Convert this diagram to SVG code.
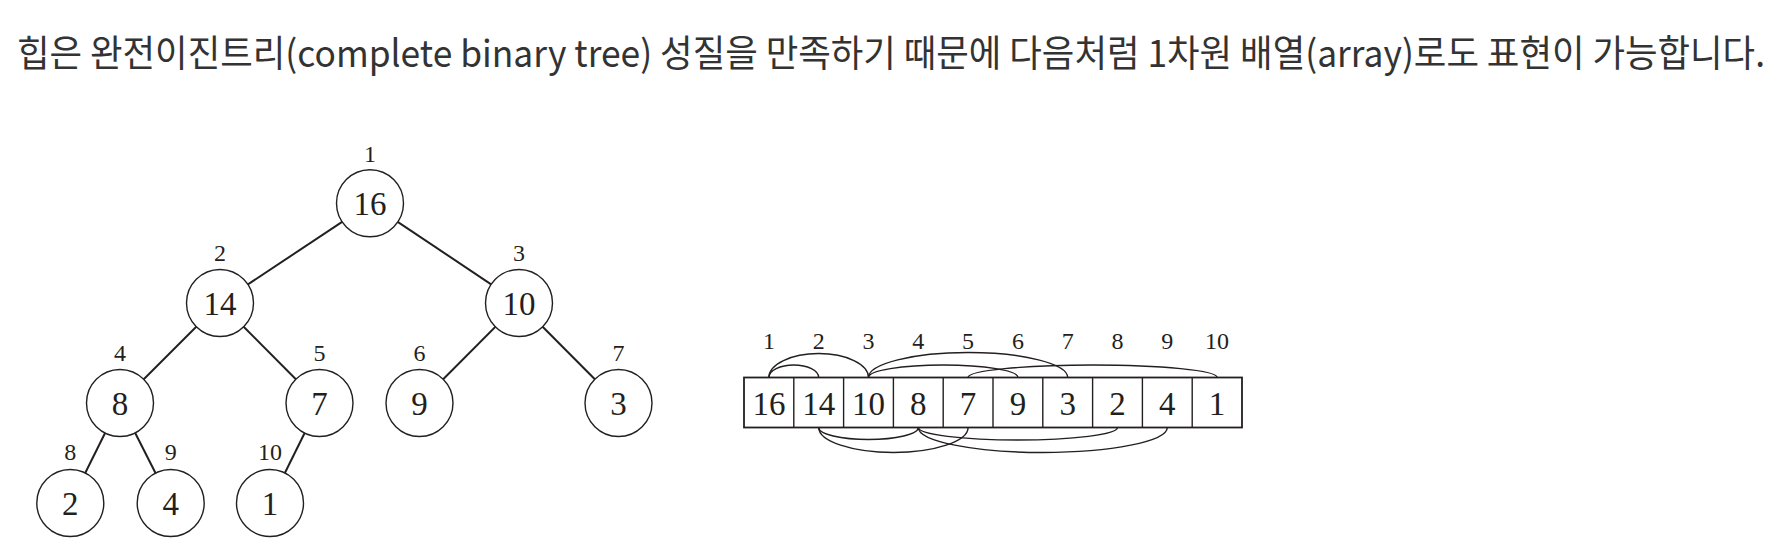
<svg xmlns="http://www.w3.org/2000/svg" width="1782" height="550" viewBox="0 0 1782 550">
<style>
.title{font-family:"Noto Sans CJK KR","Noto Sans",sans-serif;font-size:37px;fill:#333333}
.node circle{fill:#ffffff;stroke:#231f20;stroke-width:1.4}
.val{font-family:"Liberation Serif",serif;font-size:33px;fill:#231f20;text-anchor:middle}
.idx{font-family:"Liberation Serif",serif;font-size:24px;fill:#231f20;text-anchor:middle}
.edge{stroke:#231f20;stroke-width:2;fill:none}
.arc{stroke:#231f20;stroke-width:1.4;fill:none}
.cell{fill:#ffffff;stroke:#231f20;stroke-width:1.8}
</style>
<rect width="1782" height="550" fill="#ffffff"/>
<text class="title" x="17" y="66.5" textLength="1748" lengthAdjust="spacingAndGlyphs">힙은 완전이진트리(complete binary tree) 성질을 만족하기 때문에 다음처럼 1차원 배열(array)로도 표현이 가능합니다.</text>

<g id="connectors">
<line class="edge" x1="370" y1="203.3" x2="220" y2="303"/>
<line class="edge" x1="370" y1="203.3" x2="519" y2="303"/>
<line class="edge" x1="220" y1="303" x2="120" y2="403"/>
<line class="edge" x1="220" y1="303" x2="319.5" y2="403"/>
<line class="edge" x1="519" y1="303" x2="419.5" y2="403"/>
<line class="edge" x1="519" y1="303" x2="618.5" y2="403"/>
<line class="edge" x1="120" y1="403" x2="70.3" y2="503"/>
<line class="edge" x1="120" y1="403" x2="170.7" y2="503"/>
<line class="edge" x1="319.5" y1="403" x2="270" y2="503"/>
</g>

<g id="n1" class="node"><circle cx="370" cy="203.3" r="33.5"/><text class="val" x="370" y="215">16</text><text class="idx" x="370" y="162">1</text></g>
<g id="n2" class="node"><circle cx="220" cy="303" r="33.5"/><text class="val" x="220" y="314.5">14</text><text class="idx" x="220" y="261">2</text></g>
<g id="n3" class="node"><circle cx="519" cy="303" r="33.5"/><text class="val" x="519" y="314.5">10</text><text class="idx" x="519" y="261">3</text></g>
<g id="n4" class="node"><circle cx="120" cy="403" r="33.5"/><text class="val" x="120" y="414.5">8</text><text class="idx" x="120" y="361">4</text></g>
<g id="n5" class="node"><circle cx="319.5" cy="403" r="33.5"/><text class="val" x="319.5" y="414.5">7</text><text class="idx" x="319.5" y="361">5</text></g>
<g id="n6" class="node"><circle cx="419.5" cy="403" r="33.5"/><text class="val" x="419.5" y="414.5">9</text><text class="idx" x="419.5" y="361">6</text></g>
<g id="n7" class="node"><circle cx="618.5" cy="403" r="33.5"/><text class="val" x="618.5" y="414.5">3</text><text class="idx" x="618.5" y="361">7</text></g>
<g id="n8" class="node"><circle cx="70.3" cy="503" r="33.5"/><text class="val" x="70.3" y="514.5">2</text><text class="idx" x="70.3" y="460">8</text></g>
<g id="n9" class="node"><circle cx="170.7" cy="503" r="33.5"/><text class="val" x="170.7" y="514.5">4</text><text class="idx" x="170.7" y="460">9</text></g>
<g id="n10" class="node"><circle cx="270" cy="503" r="33.5"/><text class="val" x="270" y="514.5">1</text><text class="idx" x="270" y="460">10</text></g>

<g id="array">
<rect class="cell" x="744" y="377.5" width="498" height="50"/>
<g class="arc">
<line x1="793.8" y1="377.5" x2="793.8" y2="427.5"/>
<line x1="843.6" y1="377.5" x2="843.6" y2="427.5"/>
<line x1="893.4" y1="377.5" x2="893.4" y2="427.5"/>
<line x1="943.2" y1="377.5" x2="943.2" y2="427.5"/>
<line x1="993" y1="377.5" x2="993" y2="427.5"/>
<line x1="1042.8" y1="377.5" x2="1042.8" y2="427.5"/>
<line x1="1092.6" y1="377.5" x2="1092.6" y2="427.5"/>
<line x1="1142.4" y1="377.5" x2="1142.4" y2="427.5"/>
<line x1="1192.2" y1="377.5" x2="1192.2" y2="427.5"/>
</g>
<text class="val" x="768.9" y="415">16</text>
<text class="val" x="818.7" y="415">14</text>
<text class="val" x="868.5" y="415">10</text>
<text class="val" x="918.3" y="415">8</text>
<text class="val" x="968.1" y="415">7</text>
<text class="val" x="1017.9" y="415">9</text>
<text class="val" x="1067.7" y="415">3</text>
<text class="val" x="1117.5" y="415">2</text>
<text class="val" x="1167.3" y="415">4</text>
<text class="val" x="1217.1" y="415">1</text>
<text class="idx" x="768.9" y="349">1</text>
<text class="idx" x="818.7" y="349">2</text>
<text class="idx" x="868.5" y="349">3</text>
<text class="idx" x="918.3" y="349">4</text>
<text class="idx" x="968.1" y="349">5</text>
<text class="idx" x="1017.9" y="349">6</text>
<text class="idx" x="1067.7" y="349">7</text>
<text class="idx" x="1117.5" y="349">8</text>
<text class="idx" x="1167.3" y="349">9</text>
<text class="idx" x="1217.1" y="349">10</text>
</g>

<g id="array-connectors">
<path class="arc" d="M768.9 377.5 A24.9 12.5 0 0 1 818.7 377.5"/>
<path class="arc" d="M768.9 377.5 A49.8 24 0 0 1 868.5 377.5"/>
<path class="arc" d="M868.5 377.5 A74.7 12.5 0 0 1 1017.9 377.5"/>
<path class="arc" d="M868.5 377.5 A99.6 25 0 0 1 1067.7 377.5"/>
<path class="arc" d="M968.1 377.5 A124.5 12.5 0 0 1 1217.1 377.5"/>
<path class="arc" d="M818.7 427.5 A49.8 12 0 0 0 918.3 427.5"/>
<path class="arc" d="M818.7 427.5 A74.7 25 0 0 0 968.1 427.5"/>
<path class="arc" d="M918.3 427.5 A99.6 12.5 0 0 0 1117.5 427.5"/>
<path class="arc" d="M918.3 427.5 A124.5 25 0 0 0 1167.3 427.5"/>
</g>
</svg>
